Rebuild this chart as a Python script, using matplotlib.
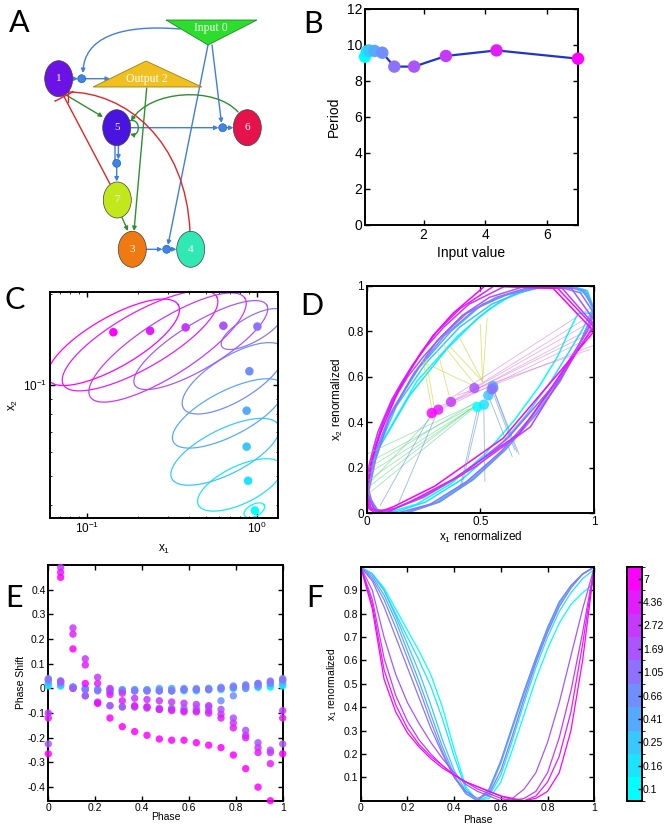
import numpy as np
import matplotlib
matplotlib.use('Agg')
import matplotlib.pyplot as plt
from matplotlib.patches import Ellipse, Polygon, Circle, FancyArrowPatch
from matplotlib.path import Path
from matplotlib.colors import ListedColormap, BoundaryNorm
import matplotlib.cm as cm
from matplotlib.ticker import FuncFormatter, NullFormatter, FixedLocator, LogLocator

plt.rcParams['font.family'] = ['Liberation Sans', 'DejaVu Sans']
plt.rcParams['mathtext.fontset'] = 'custom'
plt.rcParams['mathtext.rm'] = 'Liberation Sans'
plt.rcParams['mathtext.it'] = 'Liberation Sans'

# ---------------- data ----------------
input_values = [0.1, 0.16, 0.25, 0.41, 0.66, 1.05, 1.69, 2.72, 4.36, 7]
input_labels = ['0.1', '0.16', '0.25', '0.41', '0.66', '1.05', '1.69', '2.72', '4.36', '7']
period = [9.35, 9.65, 9.68, 9.67, 9.57, 8.8, 8.8, 9.39, 9.7, 9.24]

# panel C: mean points and limit-cycle ellipses (log space)
c_pt_x = [0.977, 0.89, 0.873, 0.873, 0.906, 1.01, 0.637, 0.382, 0.236, 0.1435]
c_pt_y = [0.0384, 0.0482, 0.0625, 0.0822, 0.111, 0.156, 0.157, 0.155, 0.151, 0.1494]
c_cen_x = [0.969, 0.798, 0.652, 0.681, 0.730, 0.943, 0.469, 0.299, 0.206, 0.1435]
c_cen_y = [0.0385, 0.0467, 0.0601, 0.0805, 0.1052, 0.1531, 0.1355, 0.133, 0.140, 0.1384]
c_major_x = [0.0588, 0.245, 0.3137, 0.3235, 0.294, 0.180, 0.388, 0.455, 0.451, 0.382]
c_major_y = [0.0166, 0.0662, 0.0883, 0.0938, 0.0993, 0.0574, 0.1325, 0.1634, 0.1457, 0.1236]
c_minor_x = [0.0155, 0.048, 0.059, 0.060, 0.068, 0.036, 0.068, 0.086, 0.080, 0.073]
c_minor_y = [-0.0178, -0.056, -0.0666, -0.066, -0.064, -0.036, -0.064, -0.077, -0.079, -0.072]

# panel F: x1 renormalized vs phase (21 samples per input)
phase_f = np.linspace(0, 1, 21)
x1_norm = [
    [1.0, 0.97, 0.91, 0.82, 0.73, 0.64, 0.54, 0.40, 0.22, 0.06, 0.0, 0.01, 0.08, 0.22, 0.37, 0.52, 0.65, 0.76, 0.84, 0.89, 0.93],
    [1.0, 0.97, 0.90, 0.80, 0.70, 0.60, 0.49, 0.35, 0.19, 0.05, 0.0, 0.02, 0.11, 0.26, 0.42, 0.57, 0.70, 0.81, 0.89, 0.95, 0.99],
    [1.0, 0.97, 0.90, 0.79, 0.67, 0.55, 0.41, 0.26, 0.13, 0.04, 0.0, 0.04, 0.16, 0.31, 0.46, 0.60, 0.73, 0.84, 0.92, 0.97, 1.0],
    [1.0, 0.96, 0.88, 0.77, 0.64, 0.51, 0.37, 0.23, 0.11, 0.03, 0.0, 0.05, 0.17, 0.32, 0.47, 0.61, 0.74, 0.85, 0.92, 0.97, 1.0],
    [1.0, 0.95, 0.86, 0.74, 0.61, 0.48, 0.34, 0.21, 0.10, 0.03, 0.0, 0.05, 0.17, 0.32, 0.47, 0.61, 0.74, 0.85, 0.92, 0.97, 1.0],
    [1.0, 0.94, 0.83, 0.70, 0.57, 0.44, 0.31, 0.20, 0.10, 0.04, 0.01, 0.03, 0.13, 0.28, 0.44, 0.59, 0.72, 0.83, 0.91, 0.97, 1.0],
    [1.0, 0.90, 0.70, 0.54, 0.42, 0.33, 0.25, 0.18, 0.12, 0.07, 0.04, 0.02, 0.0, 0.01, 0.05, 0.12, 0.25, 0.42, 0.62, 0.82, 1.0],
    [1.0, 0.86, 0.61, 0.45, 0.34, 0.26, 0.20, 0.15, 0.11, 0.08, 0.05, 0.03, 0.01, 0.0, 0.01, 0.04, 0.12, 0.27, 0.47, 0.72, 1.0],
    [1.0, 0.84, 0.56, 0.41, 0.31, 0.24, 0.19, 0.15, 0.11, 0.08, 0.06, 0.04, 0.02, 0.005, 0.0, 0.02, 0.08, 0.19, 0.38, 0.67, 1.0],
    [1.0, 0.82, 0.52, 0.38, 0.29, 0.23, 0.18, 0.14, 0.11, 0.08, 0.06, 0.04, 0.02, 0.01, 0.0, 0.01, 0.04, 0.12, 0.30, 0.60, 1.0],
]
# panel D: x2 renormalized at the same phases
x2_norm = [
    [0.88, 0.96, 0.995, 1.0, 0.99, 0.96, 0.90, 0.78, 0.58, 0.30, 0.12, 0.03, 0.0, 0.04, 0.13, 0.26, 0.41, 0.56, 0.69, 0.80, 0.88],
    [0.89, 0.97, 1.0, 1.0, 0.98, 0.94, 0.86, 0.72, 0.52, 0.28, 0.10, 0.02, 0.0, 0.05, 0.15, 0.28, 0.43, 0.58, 0.71, 0.81, 0.89],
    [0.90, 0.98, 1.0, 1.0, 0.97, 0.92, 0.82, 0.66, 0.47, 0.26, 0.09, 0.01, 0.0, 0.05, 0.15, 0.28, 0.43, 0.58, 0.71, 0.82, 0.90],
    [0.90, 0.98, 1.0, 1.0, 0.97, 0.92, 0.80, 0.64, 0.45, 0.25, 0.09, 0.01, 0.0, 0.05, 0.15, 0.28, 0.43, 0.58, 0.71, 0.82, 0.90],
    [0.90, 0.98, 1.0, 0.99, 0.96, 0.90, 0.78, 0.62, 0.43, 0.24, 0.09, 0.01, 0.0, 0.05, 0.15, 0.28, 0.43, 0.58, 0.71, 0.82, 0.90],
    [0.88, 0.97, 1.0, 0.99, 0.95, 0.88, 0.76, 0.60, 0.42, 0.24, 0.10, 0.02, 0.0, 0.04, 0.14, 0.27, 0.42, 0.57, 0.70, 0.80, 0.88],
    [0.85, 0.99, 1.0, 0.95, 0.87, 0.78, 0.69, 0.60, 0.50, 0.40, 0.30, 0.20, 0.10, 0.03, 0.0, 0.02, 0.07, 0.17, 0.33, 0.56, 0.85],
    [0.83, 0.99, 1.0, 0.92, 0.82, 0.73, 0.65, 0.57, 0.50, 0.43, 0.36, 0.29, 0.21, 0.13, 0.06, 0.01, 0.02, 0.085, 0.20, 0.38, 0.83],
    [0.82, 0.99, 1.0, 0.90, 0.80, 0.71, 0.63, 0.56, 0.49, 0.42, 0.36, 0.30, 0.23, 0.15, 0.08, 0.02, 0.0, 0.05, 0.15, 0.35, 0.82],
    [0.80, 0.99, 1.0, 0.88, 0.78, 0.69, 0.61, 0.54, 0.47, 0.40, 0.35, 0.29, 0.22, 0.15, 0.08, 0.02, 0.0, 0.03, 0.12, 0.33, 0.80],
]
d_pt_x = [0.487, 0.516, 0.535, 0.555, 0.557, 0.55, 0.474, 0.371, 0.315, 0.286]
d_pt_y = [0.468, 0.478, 0.519, 0.56, 0.551, 0.545, 0.551, 0.49, 0.456, 0.441]
seg_yellow = [(0.51, 0.58, 0.53, 0.86), (0.51, 0.58, 0.50, 0.83), (0.51, 0.58, 0.41, 0.77), (0.51, 0.58, 0.37, 0.73),
              (0.47, 0.56, 0.24, 0.67), (0.29, 0.44, 0.25, 0.66), (0.30, 0.45, 0.26, 0.68), (0.37, 0.49, 0.31, 0.72),
              (0.49, 0.55, 0.33, 0.75)]
seg_green = [(0.48, 0.47, 0.0, 0.08), (0.47, 0.47, 0.0, 0.11), (0.49, 0.48, 0.0, 0.14), (0.46, 0.46, 0.0, 0.17),
             (0.48, 0.49, 0.01, 0.20), (0.45, 0.46, 0.02, 0.23), (0.47, 0.48, 0.0, 0.26), (0.30, 0.44, 0.0, 0.12)]
seg_pink = [(0.29, 0.44, 1.0, 0.78), (0.31, 0.455, 1.0, 0.82), (0.37, 0.49, 1.0, 0.85), (0.47, 0.55, 1.0, 0.88),
            (0.36, 0.50, 0.98, 0.90), (0.32, 0.47, 1.0, 0.74), (0.40, 0.52, 0.98, 0.72), (0.45, 0.53, 1.0, 0.80)]
seg_blue = [(0.49, 0.47, 0.41, 0.11), (0.515, 0.48, 0.52, 0.14), (0.555, 0.55, 0.66, 0.27), (0.56, 0.54, 0.67, 0.26),
            (0.55, 0.545, 0.65, 0.28), (0.535, 0.52, 0.64, 0.25), (0.286, 0.441, 0.06, 0.035), (0.315, 0.456, 0.13, 0.02),
            (0.50, 0.47, 0.42, 0.13)]

# panel E: phase shift vs phase (20 phases per input)
phase_e = np.linspace(0, 1, 20)
phase_shift = [
    [0.01, 0.01, 0.005, 0.0, -0.005, -0.005, -0.005, -0.005, -0.005, -0.005, -0.005, -0.005, -0.005, -0.005, 0.0, 0.0, 0.005, 0.005, 0.005, 0.01],
    [0.015, 0.01, 0.005, 0.0, -0.005, -0.01, -0.01, -0.01, -0.01, -0.01, -0.01, -0.01, -0.01, -0.005, -0.005, 0.0, 0.0, 0.005, 0.01, 0.015],
    [0.02, 0.015, 0.005, 0.0, -0.005, -0.01, -0.01, -0.01, -0.01, -0.01, -0.01, -0.005, -0.005, 0.0, 0.0, 0.005, 0.01, 0.015, 0.02, 0.02],
    [0.03, 0.02, 0.005, -0.005, -0.005, -0.005, -0.005, -0.005, -0.005, 0.0, 0.0, 0.0, 0.0, 0.0, 0.005, 0.01, 0.015, 0.02, 0.025, 0.03],
    [0.04, 0.03, 0.005, -0.03, -0.06, -0.07, -0.075, -0.075, -0.075, -0.08, -0.08, -0.08, -0.08, -0.075, -0.05, -0.03, 0.0, 0.01, 0.02, 0.04],
    [0.035, 0.03, 0.0, -0.005, -0.01, -0.015, -0.01, -0.01, -0.01, -0.01, -0.01, -0.005, -0.005, -0.005, 0.0, 0.005, 0.01, 0.02, 0.03, 0.035],
    [-0.225, 0.025, 0.0, -0.03, -0.055, -0.07, -0.075, -0.075, -0.08, -0.085, -0.085, -0.09, -0.09, -0.09, -0.085, -0.12, -0.17, -0.22, -0.25, -0.225],
    [-0.10, 0.49, 0.245, 0.12, 0.045, 0.0, -0.02, -0.04, -0.045, -0.05, -0.055, -0.06, -0.065, -0.07, -0.105, -0.14, -0.19, -0.24, -0.26, -0.09],
    [-0.12, 0.47, 0.22, 0.095, 0.02, -0.025, -0.05, -0.07, -0.075, -0.085, -0.09, -0.095, -0.095, -0.10, -0.12, -0.16, -0.20, -0.26, -0.305, -0.12],
    [-0.265, 0.45, 0.16, 0.02, -0.06, -0.12, -0.155, -0.175, -0.19, -0.205, -0.21, -0.21, -0.22, -0.23, -0.24, -0.27, -0.325, -0.40, -0.455, -0.265],
]

# ---------------- figure ----------------
W, H = 672, 836
fig = plt.figure(figsize=(W / 100, H / 100), dpi=100)
cool = plt.get_cmap('cool')
colors = [cool(i / 9) for i in range(10)]


def ax_px(left, top, right, bottom):
    return fig.add_axes([left / W, 1 - bottom / H, (right - left) / W, (bottom - top) / H])


def matlab(ax, fs):
    for s in ax.spines.values():
        s.set_linewidth(1.4)
    ax.tick_params(direction='in', top=True, right=True, length=3.5, width=1.0,
                   labelsize=fs, pad=2)
    ax.tick_params(which='minor', direction='in', top=True, right=True, length=2, width=0.6)


gfmt = FuncFormatter(lambda v, p: '%g' % round(v, 6))

# ---------------- panel A: network ----------------
axA = ax_px(0, 0, 280, 280)
axA.set_xlim(0, 280)
axA.set_ylim(280, 0)
axA.axis('off')

BLUE = '#3d7fe0'
GREEN = '#2f8f2f'
RED = '#e02525'
SERIF = ['Liberation Serif', 'DejaVu Serif']


def arrow(p0, p1, color, style='-|>', rad=0.0, lw=1.0):
    a = FancyArrowPatch(p0, p1, arrowstyle=style, mutation_scale=6, color=color, lw=lw,
                        shrinkA=0, shrinkB=0, connectionstyle='arc3,rad=%g' % rad, zorder=1)
    axA.add_patch(a)


def curve(verts, color, style='-|>', lw=1.0):
    codes = [Path.MOVETO, Path.CURVE4, Path.CURVE4, Path.CURVE4]
    a = FancyArrowPatch(path=Path(verts, codes), arrowstyle=style, mutation_scale=6, color=color,
                        lw=lw, zorder=1)
    axA.add_patch(a)


# blue edges
curve([(180, 29), (120, 24), (84, 38), (83, 73)], BLUE)
arrow((72, 78.7), (78, 78.7), BLUE)
arrow((85.5, 78.7), (110, 78.7), BLUE)
arrow((212, 45), (221.5, 123), BLUE)
arrow((208, 45), (168, 245), BLUE)
arrow((131, 127.7), (218.5, 127.7), BLUE)
arrow((227, 127.7), (233.5, 127.7), BLUE)
arrow((115, 145.5), (115, 159.5), BLUE, style='-')
arrow((118.4, 145.5), (118.4, 159.5), BLUE, style='-|>')
arrow((116.7, 167.5), (116.7, 181.5), BLUE)
arrow((146.5, 249.3), (162.5, 249.3), BLUE)
arrow((171, 249.3), (176.5, 249.3), BLUE)
# green edges
arrow((66, 95), (103, 117), GREEN)
arrow((146.7, 88), (134, 231), GREEN)
arrow((122, 217.5), (128, 231), GREEN)
curve([(238, 112), (215, 86), (150, 90), (131, 121)], GREEN)
curve([(129, 121), (141, 117), (141, 137), (130, 134)], GREEN)
# red (inhibitory) edges
arrow((110, 184), (64, 96.5), RED, style='-[,widthB=1.2,lengthB=0.05')
curve([(190, 232), (186, 140), (125, 92), (68, 92)], RED, style='-[,widthB=1.2,lengthB=0.05')

# shapes
axA.add_patch(Polygon([(166, 20), (257, 20), (208, 45)], closed=True, fc='#2ddd2d', ec='#1a8a1a', lw=0.6, zorder=3))
axA.add_patch(Polygon([(93, 87), (202, 87), (146, 61)], closed=True, fc='#f0c020', ec='#a08010', lw=0.6, zorder=3))
axA.text(211, 28.5, 'Input 0', color='white', fontsize=8.5, family=SERIF,
         ha='center', va='center', zorder=4)
axA.text(147, 79, 'Output 2', color='white', fontsize=8.5, family=SERIF,
         ha='center', va='center', zorder=4)
nodes = {'1': ((58.7, 78.7), '#6c12e6'), '5': ((116.7, 127.7), '#4a14e0'), '6': ((247.3, 127.7), '#e6124c'),
         '7': ((117.3, 200), '#c2e81c'), '3': ((132.3, 249.3), '#f07a12'), '4': ((190.7, 249.3), '#30e8b4')}
for lab, (c, fc) in nodes.items():
    axA.add_patch(Ellipse(c, 28, 36, fc=fc, ec='#404040', lw=0.5, zorder=3))
    axA.text(c[0], c[1], lab, color='white', fontsize=8, family=SERIF,
             ha='center', va='center', zorder=4)
for c in [(81.7, 78.7), (222.7, 127.7), (116.7, 163.3), (166.7, 249.3)]:
    axA.add_patch(Circle(c, 4, fc='#3d86e8', ec='#1050b0', lw=0.4, zorder=3))

# ---------------- panel B ----------------
axB = ax_px(365, 9, 578, 225)
axB.plot(input_values, period, color='#1f35c8', lw=1.6, zorder=2)
axB.scatter(input_values, period, c=colors, s=80, zorder=3, clip_on=False, edgecolors='none')
axB.set_xlim(0.1, 7)
axB.set_ylim(0, 12)
axB.set_xticks([2, 4, 6])
axB.set_yticks([0, 2, 4, 6, 8, 10, 12])
matlab(axB, 10)
axB.set_xlabel('Input value', fontsize=10, labelpad=3)
axB.set_ylabel('Period', fontsize=10, labelpad=4)

# ---------------- panel C ----------------
axC = ax_px(50, 292, 278, 518)
t = np.linspace(0, 2 * np.pi, 200)
for i in range(10):
    lx = np.log10(c_cen_x[i]) + c_major_x[i] * np.cos(t) + c_minor_x[i] * np.sin(t)
    ly = np.log10(c_cen_y[i]) + c_major_y[i] * np.cos(t) + c_minor_y[i] * np.sin(t)
    axC.plot(10 ** lx, 10 ** ly, color=colors[i], lw=0.9)
axC.scatter(c_pt_x, c_pt_y, c=colors, s=38, zorder=3, edgecolors='none')
axC.set_xscale('log')
axC.set_yscale('log')
axC.set_xlim(0.0608, 1.335)
axC.set_ylim(0.0363, 0.203)
axC.xaxis.set_major_locator(FixedLocator([0.1, 1.0]))
axC.yaxis.set_major_locator(FixedLocator([0.1]))
axC.xaxis.set_minor_locator(LogLocator(base=10, subs=np.arange(2, 10)))
axC.yaxis.set_minor_locator(LogLocator(base=10, subs=np.arange(2, 10)))
axC.xaxis.set_minor_formatter(NullFormatter())
axC.yaxis.set_minor_formatter(NullFormatter())
matlab(axC, 8.5)
axC.tick_params(which='minor', length=1.5)
axC.set_xlabel('x$_1$', fontsize=8.5, labelpad=5)
axC.set_ylabel('x$_2$', fontsize=8.5, labelpad=2)

# ---------------- panel D ----------------
axD = ax_px(366.7, 286, 594, 513.3)
for i in range(10):
    xs = list(x1_norm[i]) + [x1_norm[i][0]]
    ys = list(x2_norm[i]) + [x2_norm[i][0]]
    axD.plot(xs, ys, color=colors[i], lw=1.1, solid_joinstyle='round')
for segs, col, al in [(seg_yellow, '#d0dc40', 0.75), (seg_green, '#60d888', 0.6),
                      (seg_pink, '#dc6cdc', 0.55), (seg_blue, '#5a8ad8', 0.6)]:
    for (xa, ya, xb, yb) in segs:
        axD.plot([xa, xb], [ya, yb], color=col, alpha=al, lw=0.6)
axD.scatter(d_pt_x, d_pt_y, c=colors, s=55, alpha=0.85, zorder=4, edgecolors='none')
axD.set_xlim(0, 1)
axD.set_ylim(0, 1)
axD.set_xticks([0, 0.5, 1])
axD.set_yticks([0, 0.2, 0.4, 0.6, 0.8, 1])
axD.xaxis.set_major_formatter(gfmt)
axD.yaxis.set_major_formatter(gfmt)
matlab(axD, 8.5)
axD.set_xlabel('x$_1$ renormalized', fontsize=8.5, labelpad=1)
axD.set_ylabel('x$_2$ renormalized', fontsize=8.5, labelpad=2)

# ---------------- panel E ----------------
axE = ax_px(48.3, 565, 282.7, 800.7)
for i in range(10):
    axE.scatter(phase_e, phase_shift[i], color=colors[i], s=28, alpha=0.85, edgecolors='none',
                clip_on=False, zorder=3)
axE.set_xlim(0, 1)
axE.set_ylim(-0.455, 0.5)
axE.set_xticks([0, 0.2, 0.4, 0.6, 0.8, 1])
axE.set_yticks([-0.4, -0.3, -0.2, -0.1, 0, 0.1, 0.2, 0.3, 0.4])
axE.xaxis.set_major_formatter(gfmt)
axE.yaxis.set_major_formatter(gfmt)
matlab(axE, 7.5)
axE.set_xlabel('Phase', fontsize=7.5, labelpad=-1)
axE.set_ylabel('Phase Shift', fontsize=7.5, labelpad=1)

# ---------------- panel F ----------------
axF = ax_px(360.7, 567, 594.3, 800.7)
for i in range(10):
    axF.plot(phase_f, x1_norm[i], color=colors[i], lw=0.9)
axF.set_xlim(0, 1)
axF.set_ylim(0, 1)
axF.set_xticks([0, 0.2, 0.4, 0.6, 0.8, 1])
axF.set_yticks([0.1, 0.2, 0.3, 0.4, 0.5, 0.6, 0.7, 0.8, 0.9])
axF.xaxis.set_major_formatter(gfmt)
axF.yaxis.set_major_formatter(gfmt)
matlab(axF, 7.5)
axF.set_xlabel('Phase', fontsize=7.5, labelpad=1)
axF.set_ylabel('x$_1$ renormalized', fontsize=7.5, labelpad=3)

# colorbar
cax = ax_px(626.7, 567, 641.7, 800.7)
cmap10 = ListedColormap(colors)
norm = BoundaryNorm(np.arange(11), 10)
cb = fig.colorbar(cm.ScalarMappable(norm=norm, cmap=cmap10), cax=cax, ticks=np.arange(10) + 0.5)
cb.set_ticklabels(input_labels)
cb.ax.tick_params(labelsize=7.5, direction='in', length=3, width=1, pad=1)
cb.outline.set_linewidth(1.4)

# panel letters
for lab, (x, y) in {'A': (19, 23), 'B': (313, 24), 'C': (15, 300), 'D': (312, 306),
                    'E': (14, 598), 'F': (315, 598)}.items():
    fig.text(x / W, 1 - y / H, lab, fontsize=22, family=['Lato', 'DejaVu Sans'], ha='center', va='center')

fig.savefig('out.png', dpi=100)
